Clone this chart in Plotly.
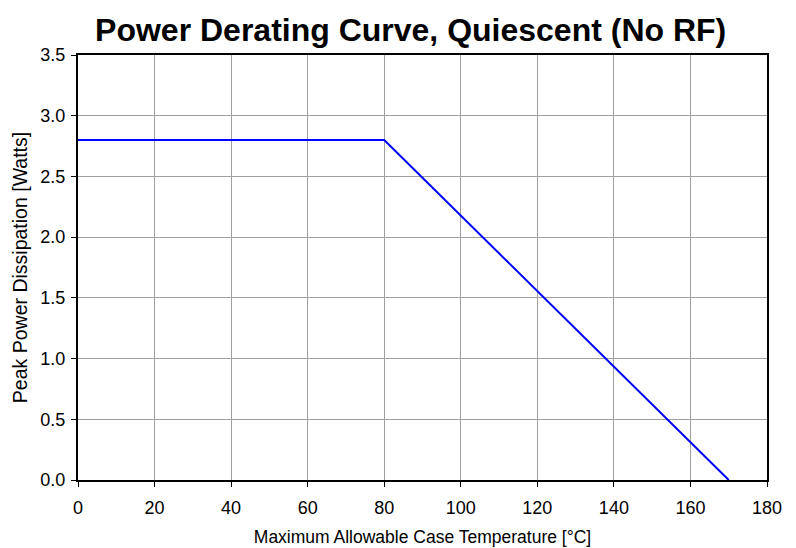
import plotly.graph_objects as go

temps = [0, 80, 170]
power = [2.8, 2.8, 0.0]

fig = go.Figure()
fig.add_trace(go.Scatter(x=temps, y=power, mode="lines",
                         line=dict(color="#0000ff", width=2), showlegend=False))

axis_common = dict(showline=True, linecolor="black", linewidth=2, mirror=True,
                   showgrid=True, gridcolor="#a0a0a0", gridwidth=1,
                   ticks="outside", ticklen=5, tickcolor="black", tickwidth=1,
                   zeroline=False, automargin=False,
                   tickfont=dict(size=18, color="black"))

# page body has an 8px margin, so the figure is laid out 8px smaller and shifted
fig.update_layout(
    width=788, height=540,
    margin=dict(l=70, r=29, t=47, b=68),
    paper_bgcolor="white", plot_bgcolor="white",
    font=dict(family="Liberation Sans, Arial, sans-serif", color="black"),
    title=dict(text="<b>Power Derating Curve, Quiescent (No RF)</b>",
               x=0.511, xanchor="center", y=0.96, yanchor="middle",
               font=dict(size=32, color="black")),
    xaxis=dict(range=[0, 180], dtick=20, tick0=0, ticklabelstandoff=5,
               title=dict(text="Maximum Allowable Case Temperature [°C]",
                          font=dict(size=17.5), standoff=14),
               **axis_common),
    yaxis=dict(range=[0, 3.5], dtick=0.5, tick0=0, tickformat=".1f",
               ticklabelstandoff=2,
               title=dict(text="Peak Power Dissipation [Watts]",
                          font=dict(size=19.5), standoff=8),
               **axis_common),
)

fig.write_html("out.html")
